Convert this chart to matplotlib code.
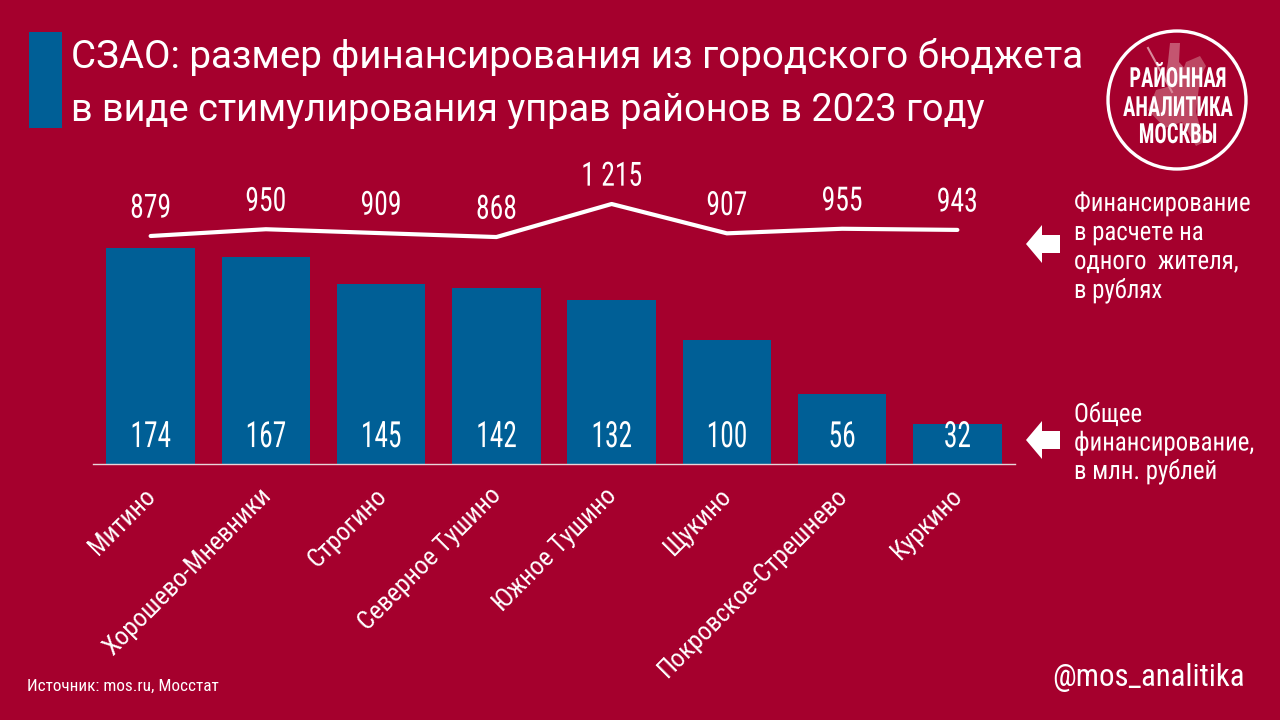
import matplotlib
matplotlib.use("Agg")
import matplotlib.pyplot as plt
from matplotlib.patches import Polygon, Rectangle, Circle
from matplotlib.patheffects import AbstractPathEffect
from matplotlib.transforms import Affine2D

districts = ["Митино", "Хорошево-Мневники", "Строгино", "Северное Тушино",
             "Южное Тушино", "Щукино", "Покровское-Стрешнево", "Куркино"]
total_mln = [174, 167, 145, 142, 132, 100, 56, 32]
per_capita = [879, 950, 909, 868, 1215, 907, 955, 943]
per_capita_labels = ["879", "950", "909", "868", "1 215", "907", "955", "943"]

BG = "#A5002D"
BLUE = "#005F96"
WHITE = "#FFFFFF"
FONT = ["Roboto Condensed", "Roboto", "DejaVu Sans"]
plt.rcParams["font.family"] = FONT


class Squeeze(AbstractPathEffect):
    """Narrow a text along its baseline while keeping its anchor."""
    def __init__(self, sx, align=0.5):
        super().__init__()
        self.sx, self.align = sx, align

    def draw_path(self, renderer, gc, tpath, affine, rgbFace=None):
        ext = tpath.get_extents()
        shift = (1 - self.sx) * self.align * (ext.x0 + ext.x1)
        local = Affine2D().scale(self.sx, 1).translate(shift, 0)
        renderer.draw_path(gc, tpath, local + affine, rgbFace)


W, H = 1280, 720
fig = plt.figure(figsize=(W / 100, H / 100), dpi=100, facecolor=BG)

def fx(x): return x / W
def fy(y): return 1 - y / H

def px_axes(l, t, r, b):
    return [fx(l), fy(b), (r - l) / W, (b - t) / H]

ax = fig.add_axes(px_axes(93, 100, 1015, 464), facecolor="none")
ax.set_xlim(-0.5, 7.5)
ax.set_ylim(0, 293)
x = list(range(len(districts)))
ax.bar(x, total_mln, width=0.768, color=BLUE, zorder=2)
for s in ["top", "left", "right"]:
    ax.spines[s].set_visible(False)
ax.spines["bottom"].set_color("#E8D5DA")
ax.spines["bottom"].set_linewidth(1.0)
ax.set_yticks([])
ax.set_xticks(x)
ax.set_xticklabels(districts, rotation=45, ha="right", rotation_mode="anchor",
                   fontsize=18.6, color=WHITE)
ax.tick_params(axis="x", length=0, pad=14)
label_shift = Affine2D().translate(-7, 0)
for lab in ax.get_xticklabels():
    lab.set_transform(lab.get_transform() + label_shift)
for xi, v in zip(x, total_mln):
    ax.annotate(str(v), (xi, 0), xytext=(0, 12.2), textcoords="offset points",
                ha="center", va="baseline", color=WHITE, fontsize=26,
                path_effects=[Squeeze(0.76)])

ax2 = fig.add_axes(px_axes(93, 100, 1015, 464), facecolor="none")
ax2.set_xlim(-0.5, 7.5)
ax2.set_ylim(-1515, 2307)
ax2.axis("off")
ax2.plot(x, per_capita, color=WHITE, lw=3.0, solid_capstyle="round",
         solid_joinstyle="round", zorder=3)
for xi, v, lab in zip(x, per_capita, per_capita_labels):
    ax2.annotate(lab, (xi, v), xytext=(0, 13.2), textcoords="offset points",
                 ha="center", va="baseline", color=WHITE, fontsize=24,
                 path_effects=[Squeeze(0.83)])

# title block
fig.patches.append(Rectangle((fx(29), fy(128)), 33 / W, 96 / H, transform=fig.transFigure,
                             facecolor=BLUE, edgecolor="none"))
fig.text(fx(71), fy(68), "СЗАО: размер финансирования из городского бюджета",
         fontsize=27.7, family="Roboto", color=WHITE, va="baseline", ha="left")
fig.text(fx(71), fy(121), "в виде стимулирования управ районов в 2023 году",
         fontsize=27.4, family="Roboto", color=WHITE, va="baseline", ha="left")

# side arrows
for top in (225, 421):
    pts = [(1026, top + 19), (1042, top), (1042, top + 10), (1060, top + 10),
           (1060, top + 28), (1042, top + 28), (1042, top + 38)]
    fig.patches.append(Polygon([(fx(a), fy(b)) for a, b in pts], closed=True,
                               transform=fig.transFigure, facecolor=WHITE, edgecolor="none"))

side_a = ["Финансирование", "в расчете на", "одного  жителя,", "в рублях"]
side_b = ["Общее", "финансирование,", "в млн. рублей"]
for i, s in enumerate(side_a):
    fig.text(fx(1074), fy(211 + i * 29), s, fontsize=19, color=WHITE, ha="left", va="baseline",
             path_effects=[Squeeze(0.94, 0)])
for i, s in enumerate(side_b):
    fig.text(fx(1074), fy(422 + i * 28.5), s, fontsize=19, color=WHITE, ha="left", va="baseline",
             path_effects=[Squeeze(0.94, 0)])

# emblem
logo = fig.add_axes([0, 0, 1, 1], facecolor="none")
logo.set_xlim(0, W)
logo.set_ylim(H, 0)
logo.axis("off")
logo.add_patch(Circle((1177, 100), 69, facecolor="none", edgecolor=WHITE, lw=2.4))
rider = [(1170, 43), (1180, 43), (1179, 62), (1186, 70), (1190, 80), (1175, 92), (1165, 80), (1168, 62)]
horse = [(1186, 62), (1200, 56), (1206, 66), (1200, 78), (1196, 112), (1204, 142), (1196, 146),
         (1182, 122), (1165, 128), (1148, 110), (1156, 90), (1178, 84)]
logo.add_patch(Polygon(rider, facecolor="#C45570", edgecolor="none"))
logo.add_patch(Polygon(horse, facecolor="#BD4863", edgecolor="none"))
logo.plot([1148, 1172], [48, 92], color="#D98A9B", lw=1.5)
for yy, s in [(87, "РАЙОННАЯ"), (116, "АНАЛИТИКА"), (143, "МОСКВЫ")]:
    logo.text(1178, yy, s, color=WHITE, fontsize=20, fontweight="bold", ha="center", va="baseline",
              path_effects=[Squeeze(0.74)])

fig.text(fx(27), fy(691), "Источник: mos.ru, Мосстат", fontsize=12.4, color=WHITE, ha="left", va="baseline")
fig.text(fx(1245), fy(686), "@mos_analitika", fontsize=22.2, color=WHITE, ha="right", va="baseline")

fig.savefig("out.png", dpi=100, facecolor=BG)
